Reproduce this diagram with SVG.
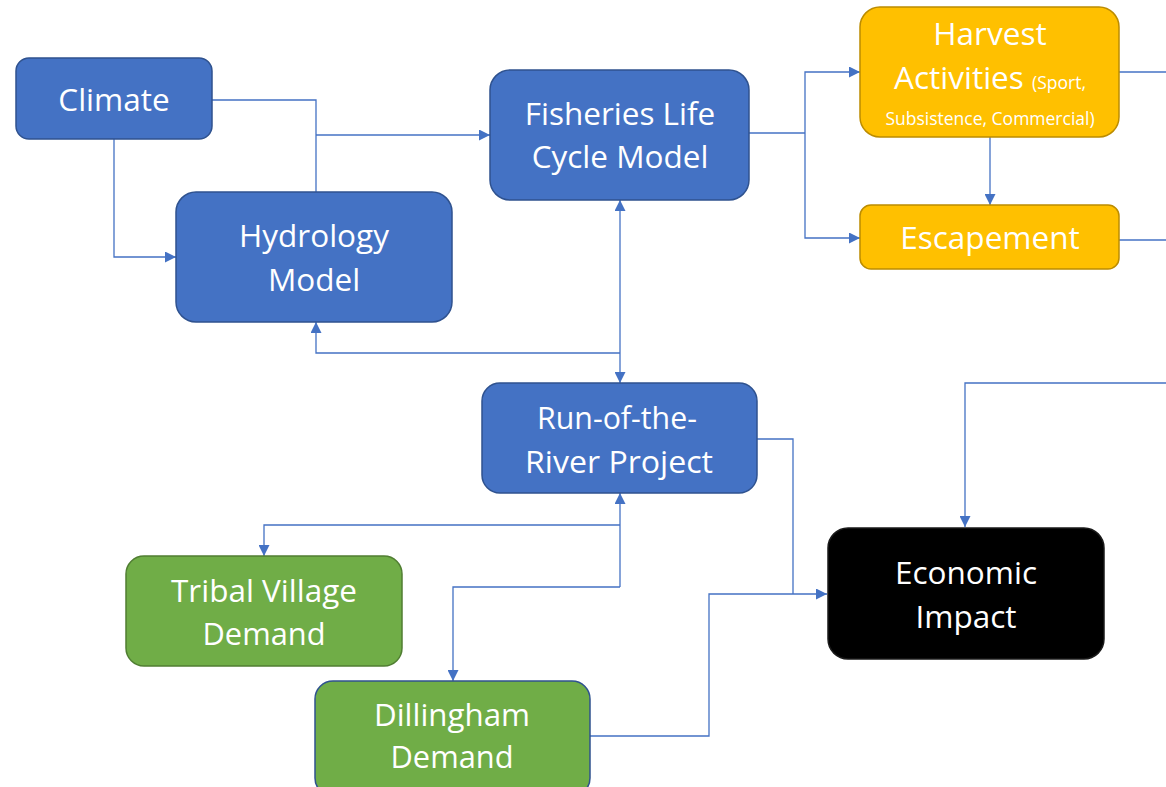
<svg xmlns="http://www.w3.org/2000/svg" width="1166" height="787" viewBox="0 0 1166 787">
  <style>
    .blue { fill: #4472C4; stroke: #2F528F; stroke-width: 1.5; }
    .gold { fill: #FFC000; stroke: #BC8C00; stroke-width: 1.5; }
    .green { fill: #70AD47; stroke: #507E32; stroke-width: 1.5; }
    .green-b { fill: #70AD47; stroke: #2F528F; stroke-width: 1.5; }
    .black { fill: #000000; stroke: #1a1a1a; stroke-width: 1.5; }
    text { font-family: "Open Sans", "Noto Sans", "Liberation Sans", sans-serif; fill: #ffffff; text-anchor: middle; font-size: 31.5px; }
    .small { font-size: 17.5px; }
    .link { fill: none; stroke: #4472C4; stroke-width: 1.3; }
  </style>
  <defs>
    <marker id="arrow" markerUnits="userSpaceOnUse" markerWidth="11" markerHeight="11" refX="11" refY="5.5" orient="auto-start-reverse">
      <path d="M0,0 L11,5.5 L0,11 z" fill="#4472C4"/>
    </marker>
  </defs>
  <rect width="1166" height="787" fill="#ffffff"/>

  <g id="connectors">
    <!-- Climate to Hydrology (top) and Fisheries -->
    <path class="link" d="M212,100 H316 V192"/>
    <path class="link" d="M316,135 H490" marker-end="url(#arrow)"/>
    <path class="link" d="M114,139 V257 H176" marker-end="url(#arrow)"/>
    <!-- Fisheries to Harvest / Escapement -->
    <path class="link" d="M749,133 H805"/>
    <path class="link" d="M805,133 V72 H860" marker-end="url(#arrow)"/>
    <path class="link" d="M805,133 V238 H860" marker-end="url(#arrow)"/>
    <path class="link" d="M990,137 V205" marker-end="url(#arrow)"/>
    <!-- outputs running off to the right -->
    <path class="link" d="M1119,72 H1166"/>
    <path class="link" d="M1119,240 H1166"/>
    <path class="link" d="M1166,383 H965 V527" marker-end="url(#arrow)"/>
    <!-- Fisheries <-> Run-of-the-River, branch to Hydrology -->
    <path class="link" d="M620,200 V383" marker-start="url(#arrow)" marker-end="url(#arrow)"/>
    <path class="link" d="M620,353 H316 V322" marker-end="url(#arrow)"/>
    <!-- Run-of-the-River <-> demands -->
    <path class="link" d="M620,587 V493" marker-end="url(#arrow)"/>
    <path class="link" d="M620,525 H264 V556" marker-end="url(#arrow)"/>
    <path class="link" d="M620,587 H453 V681" marker-end="url(#arrow)"/>
    <!-- into Economic Impact -->
    <path class="link" d="M757,439 H793 V594"/>
    <path class="link" d="M590,736 H709 V594 H827" marker-end="url(#arrow)"/>
  </g>

  <g id="climate">
    <rect class="blue" x="16" y="58" width="196" height="81" rx="13"/>
    <text x="114" y="111">Climate</text>
  </g>

  <g id="hydrology-model">
    <rect class="blue" x="176" y="192" width="276" height="130" rx="20"/>
    <text x="314" y="247">Hydrology</text>
    <text x="314" y="291">Model</text>
  </g>

  <g id="fisheries-life-cycle-model">
    <rect class="blue" x="490" y="70" width="259" height="130" rx="20"/>
    <text x="620" y="125">Fisheries Life</text>
    <text x="620" y="168">Cycle Model</text>
  </g>

  <g id="harvest-activities">
    <rect class="gold" x="860" y="7" width="259" height="130" rx="20"/>
    <text x="990" y="45">Harvest</text>
    <text x="990" y="89">Activities <tspan class="small">(Sport,</tspan></text>
    <text class="small" x="990" y="125">Subsistence, Commercial)</text>
  </g>

  <g id="escapement">
    <rect class="gold" x="860" y="205" width="259" height="64" rx="11"/>
    <text x="990" y="249">Escapement</text>
  </g>

  <g id="run-of-the-river-project">
    <rect class="blue" x="482" y="383" width="275" height="110" rx="18"/>
    <text x="617" y="429" textLength="160" lengthAdjust="spacingAndGlyphs">Run-of-the-</text>
    <text x="619" y="473" textLength="188" lengthAdjust="spacingAndGlyphs">River Project</text>
  </g>

  <g id="tribal-village-demand">
    <rect class="green" x="126" y="556" width="276" height="110" rx="18"/>
    <text x="264" y="602" textLength="186" lengthAdjust="spacingAndGlyphs">Tribal Village</text>
    <text x="264" y="645" textLength="123" lengthAdjust="spacingAndGlyphs">Demand</text>
  </g>

  <g id="dillingham-demand">
    <rect class="green-b" x="315" y="681" width="275" height="115" rx="18"/>
    <text x="452" y="726" textLength="156" lengthAdjust="spacingAndGlyphs">Dillingham</text>
    <text x="452" y="768" textLength="123" lengthAdjust="spacingAndGlyphs">Demand</text>
  </g>

  <g id="economic-impact">
    <rect class="black" x="828" y="528" width="276" height="131" rx="20"/>
    <text x="966" y="584">Economic</text>
    <text x="966" y="628">Impact</text>
  </g>
</svg>
